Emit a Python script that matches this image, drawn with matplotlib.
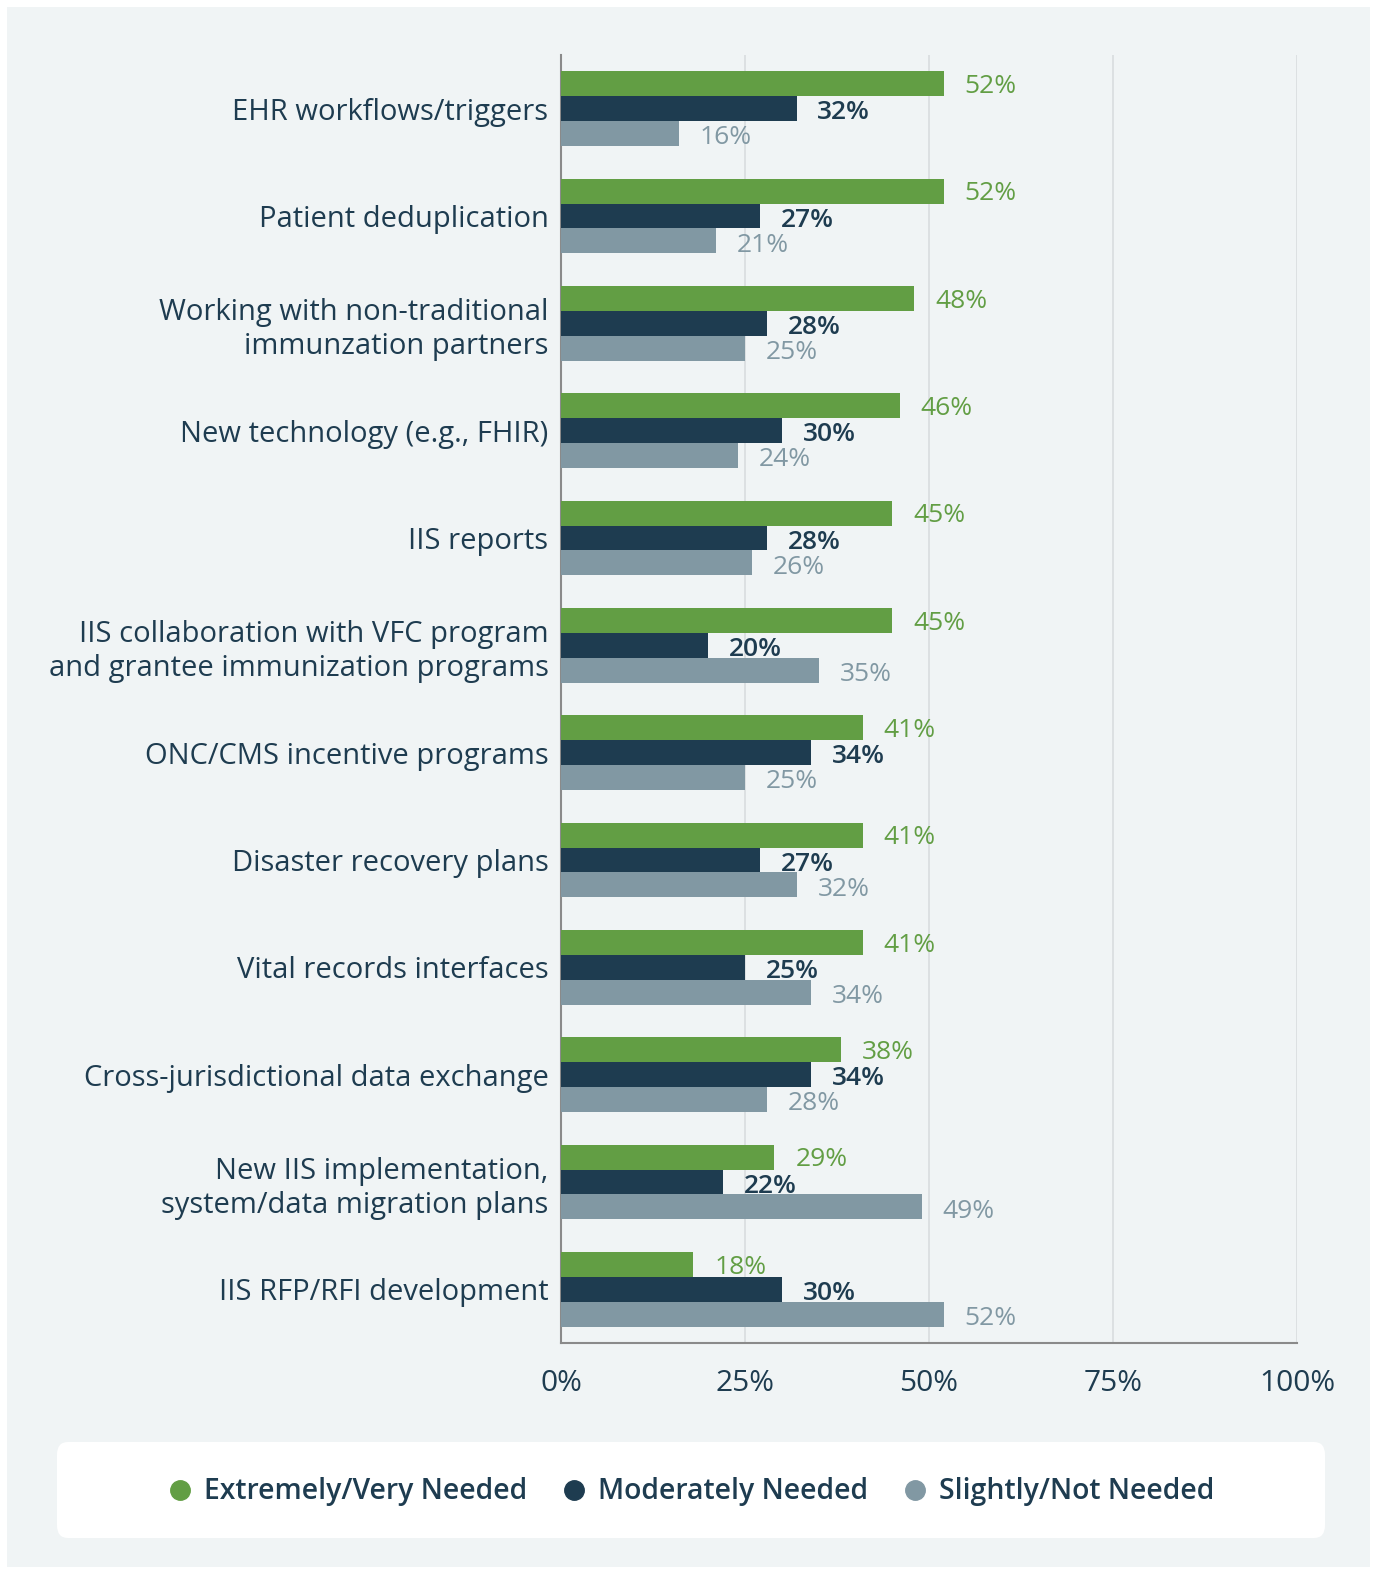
import numpy as np
import matplotlib.pyplot as plt
from matplotlib.patches import FancyBboxPatch, Rectangle
from matplotlib.lines import Line2D

plt.rcParams['font.family'] = ['Open Sans', 'DejaVu Sans']

categories = [
    "EHR workflows/triggers",
    "Patient deduplication",
    "Working with non-traditional\nimmunzation partners",
    "New technology (e.g., FHIR)",
    "IIS reports",
    "IIS collaboration with VFC program\nand grantee immunization programs",
    "ONC/CMS incentive programs",
    "Disaster recovery plans",
    "Vital records interfaces",
    "Cross-jurisdictional data exchange",
    "New IIS implementation,\nsystem/data migration plans",
    "IIS RFP/RFI development",
]
extremely = [52, 52, 48, 46, 45, 45, 41, 41, 41, 38, 29, 18]
moderately = [32, 27, 28, 30, 28, 20, 34, 27, 25, 34, 22, 30]
slightly = [16, 21, 25, 24, 26, 35, 25, 32, 34, 28, 49, 52]
series_names = ["Extremely/Very Needed", "Moderately Needed", "Slightly/Not Needed"]
xticks = [0, 25, 50, 75, 100]

green = "#629e44"
navy = "#1e3c50"
grey = "#8198a3"
panel = "#f0f4f5"
text_col = "#1e3c50"

fig = plt.figure(figsize=(13.78, 15.74), dpi=100, facecolor="white")
# light panel behind everything
fig.patches.append(Rectangle((7 / 1378, 7 / 1574), 1 - 15 / 1378, 1 - 14 / 1574,
                             transform=fig.transFigure, facecolor=panel,
                             edgecolor="none", zorder=-2))

ax = fig.add_axes([561 / 1378, 1 - 1343 / 1574, (1297 - 561) / 1378, (1343 - 55) / 1574])
ax.set_facecolor(panel)

y = np.arange(len(categories))
h = 0.232
series = [(extremely, green, -h, "medium", -2),
          (moderately, navy, 0, "semibold", -3),
          (slightly, grey, h, "normal", -3)]

for vals, col, off, wt, dy in series:
    ax.barh(y + off, vals, height=h, color=col, zorder=3)
    for yi, v in zip(y + off, vals):
        ax.annotate(f"{v}%", (v, yi), xytext=(15, dy), textcoords="offset points",
                    va="center", ha="left", fontsize=19, color=col, fontweight=wt)

ax.set_xlim(0, 100)
ax.set_ylim(len(categories) - 0.5, -0.5)
ax.set_xticks(xticks)
ax.set_xticklabels([f"{t}%" for t in xticks])
ax.set_yticks(y)
ax.set_yticklabels(categories, linespacing=1.25)
ax.tick_params(axis="x", length=0, pad=19, labelsize=21.5, labelcolor=text_col)
ax.tick_params(axis="y", length=0, pad=9, labelsize=21, labelcolor=text_col)

ax.grid(axis="x", color="#d8dcdf", linewidth=1.2, zorder=0)
for s in ["top", "right"]:
    ax.spines[s].set_visible(False)
for s in ["left", "bottom"]:
    ax.spines[s].set_color("#8a8a8a")
    ax.spines[s].set_linewidth(1.5)

# legend box
fig.patches.append(FancyBboxPatch((57 / 1378, 1 - 1538 / 1574), (1325 - 57) / 1378, 96 / 1574,
                                  boxstyle="round,pad=0,rounding_size=0.008",
                                  transform=fig.transFigure, facecolor="white",
                                  edgecolor="none", zorder=-1))
handles = [Line2D([], [], marker="o", linestyle="none", markersize=14, color=c)
           for c in (green, navy, grey)]
leg = fig.legend(handles, series_names, loc="center", bbox_to_anchor=(0.500, 1 - 1492 / 1574),
                 ncol=3, frameon=False, handletextpad=0.3, columnspacing=1.1,
                 prop={"size": 20.4, "weight": "semibold"}, handlelength=1.1)
for t in leg.get_texts():
    t.set_color(text_col)

fig.savefig("out.png", dpi=100, facecolor="white")
